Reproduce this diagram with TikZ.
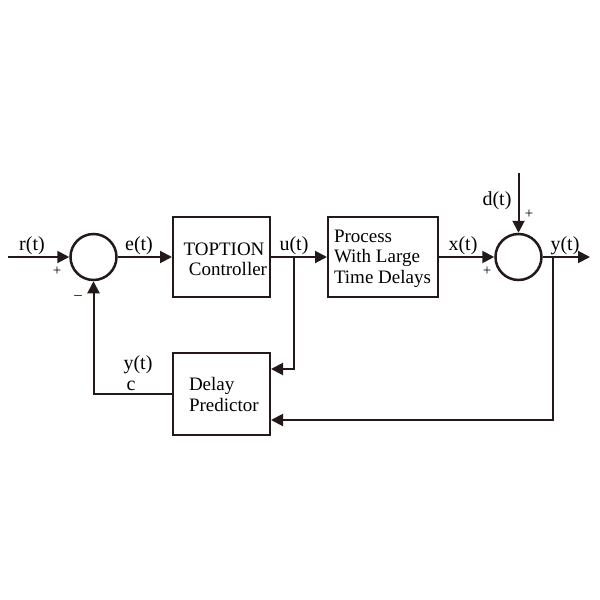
\documentclass[tikz,border=0pt]{standalone}
\usepackage{fontspec}
\setmainfont{Liberation Serif}
\usetikzlibrary{arrows.meta,calc}
\begin{document}
\begin{tikzpicture}[x=1pt,y=-1pt,
  line width=2pt, draw={rgb,255:red,35;green,25;blue,25},
  arr/.style={-{Triangle[length=12pt,width=12pt]}},
  blk/.style={draw, rectangle, inner sep=0pt, align=left, font=\fontsize{19}{21}\selectfont},
  sumc/.style={draw, circle, inner sep=0pt, minimum size=46pt, line width=2.5pt},
  txt/.style={inner sep=0pt, font=\fontsize{19}{21}\selectfont},
  lbl/.style={anchor=base, inner sep=0pt, font=\fontsize{20}{22}\selectfont},
  sgn/.style={inner sep=0pt, font=\fontsize{15}{15}\selectfont}]
\useasboundingbox (0,0) rectangle (600,600);
\fill[white] (0,0) rectangle (600,600);
\node[sumc] (s1) at (93.5,257) {};
\node[sumc] (s2) at (518.5,257) {};
\node[blk, minimum width=97pt, minimum height=80pt] (ctrl) at (221.5,257) {};
\node[txt, anchor=base] (t1) at (224,255) {TOPTION};
\node[txt, anchor=base] (t2) at (228,275) {Controller};
\node[blk, minimum width=110pt, minimum height=80pt] (proc) at (383,257) {};
\node[txt, anchor=base west] (p1) at (333,242) {Process};
\node[txt, anchor=base west] (p2) at (333,262) {With Large};
\node[txt, anchor=base west] (p3) at (333,283) {Time Delays};
\node[blk, minimum width=97pt, minimum height=82pt] (pred) at (221.5,394) {};
\node[txt, anchor=base west] (d1) at (188,390) {Delay};
\node[txt, anchor=base west] (d2) at (188,411) {Predictor};
\coordinate (in) at (8,257);
\coordinate (out) at (590,257);
\coordinate (ju) at (294,257);
\coordinate (jy) at (553,257);
\coordinate (dt) at (518.5,173);
\draw[arr] (in) -- (s1.west);
\draw[arr] (s1.east) -- (ctrl.west);
\draw[arr] (ctrl.east) -- (proc.west);
\draw[arr] (ju) |- ([yshift=25pt]pred.east);
\draw[arr] (proc.east) -- (s2.west);
\draw[arr] (dt) -- (s2.north);
\draw[arr] (s2.east) -- (out);
\draw[arr] (jy) |- ([yshift=-26pt]pred.east);
\draw[arr] (pred.west) -| (s1.south);
\node[lbl] (lr) at (32,250) {r(t)};
\node[lbl] (le) at (139,250) {e(t)};
\node[lbl] (lu) at (294,250) {u(t)};
\node[lbl] (lx) at (463,250) {x(t)};
\node[lbl] (ly) at (565,250) {y(t)};
\node[lbl] (ld) at (497,205) {d(t)};
\node[lbl] (lyc) at (138,369) {y(t)};
\node[lbl] (lc) at (131,390) {c};
\node[sgn] (sp1) at (57,271) {+};
\node[sgn] (sm1) at (78,298) {\textendash};
\node[sgn] (sp2) at (487,271) {+};
\node[sgn] (sp3) at (529,214) {+};
\end{tikzpicture}
\end{document}
